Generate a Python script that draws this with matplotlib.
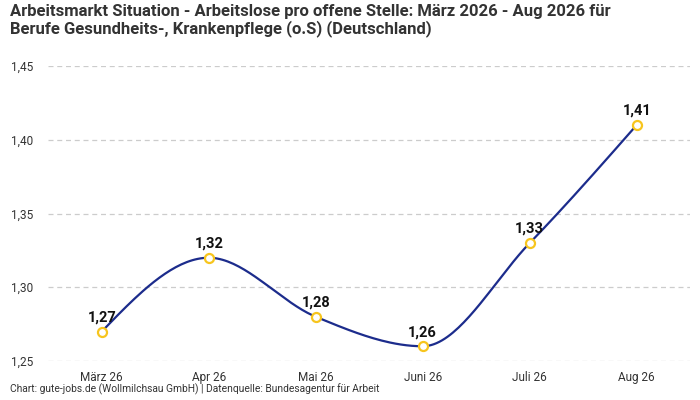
import numpy as np
import matplotlib
matplotlib.use("Agg")
import matplotlib.pyplot as plt

plt.rcParams["font.family"] = ["Roboto", "DejaVu Sans"]

monate = ["März 26", "Apr 26", "Mai 26", "Juni 26", "Juli 26", "Aug 26"]
werte = [1.27, 1.32, 1.28, 1.26, 1.33, 1.41]
y_ticks = [1.25, 1.30, 1.35, 1.40, 1.45]

titel = ("Arbeitsmarkt Situation - Arbeitslose pro offene Stelle: März 2026 - Aug 2026 für\n"
         "Berufe Gesundheits-, Krankenpflege (o.S) (Deutschland)")
quelle = "Chart: gute-jobs.de (Wollmilchsau GmbH) | Datenquelle: Bundesagentur für Arbeit"

LINIE = "#1c2c8c"
PUNKT = "#f7c51e"


def monotone_kurve(x, y, n=40):
    # monotone kubische Interpolation (wie d3 curveMonotoneX)
    x = np.asarray(x, float)
    y = np.asarray(y, float)
    h = np.diff(x)
    s = np.diff(y) / h
    t = np.zeros_like(y)
    for i in range(1, len(x) - 1):
        p = (s[i - 1] * h[i] + s[i] * h[i - 1]) / (h[i - 1] + h[i])
        t[i] = (np.sign(s[i - 1]) + np.sign(s[i])) * min(abs(s[i - 1]), abs(s[i]), 0.5 * abs(p))
    t[0] = (3 * s[0] - t[1]) / 2
    t[-1] = (3 * s[-1] - t[-2]) / 2
    xs, ys = [], []
    for i in range(len(x) - 1):
        u = np.linspace(0, 1, n)
        dx = h[i]
        p0 = y[i]
        p1 = y[i] + t[i] * dx / 3
        p2 = y[i + 1] - t[i + 1] * dx / 3
        p3 = y[i + 1]
        by = (1 - u) ** 3 * p0 + 3 * (1 - u) ** 2 * u * p1 + 3 * (1 - u) * u ** 2 * p2 + u ** 3 * p3
        bx = x[i] + u * dx
        xs.extend(bx)
        ys.extend(by)
    return np.array(xs), np.array(ys)


fig = plt.figure(figsize=(7, 4), dpi=100)
ax = fig.add_axes([0.069, 0.0975, 0.917, 0.7375])

pos = np.arange(len(monate))
kx, ky = monotone_kurve(pos, werte)
ax.plot(kx, ky, color=LINIE, lw=1.6, zorder=3)
ax.plot(pos, werte, "o", ms=6.5, mfc="white", mec=PUNKT, mew=1.6, zorder=4)

for xi, yi in zip(pos, werte):
    ax.annotate(f"{yi:.2f}".replace(".", ","), (xi, yi), xytext=(0, 5),
                textcoords="offset points", ha="center", va="bottom",
                fontsize=10.5, fontweight="bold", color="#111111", zorder=5)

ax.set_xlim(-0.5, len(monate) - 0.5)
ax.set_ylim(1.25, 1.45)
ax.set_xticks(pos)
ax.set_xticklabels(monate)
ax.set_yticks(y_ticks)
ax.set_yticklabels([f"{v:.2f}".replace(".", ",") for v in y_ticks])
ax.tick_params(axis="both", length=0, labelsize=8.5, colors="#333333")
ax.tick_params(axis="x", pad=7)
ax.tick_params(axis="y", pad=27)
for lbl in ax.get_yticklabels():
    lbl.set_horizontalalignment("left")
ax.yaxis.grid(True, color="#cccccc", ls=(0, (4, 3)), lw=0.9)
ax.set_axisbelow(True)
for sp in ax.spines.values():
    sp.set_visible(False)

fig.text(0.014, 0.99, titel, ha="left", va="top", fontsize=12,
         fontweight="bold", color="#333333", linespacing=1.1)
fig.text(0.014, 0.012, quelle, ha="left", va="bottom", fontsize=7.4, color="#333333")

fig.savefig("out.png", dpi=100)
